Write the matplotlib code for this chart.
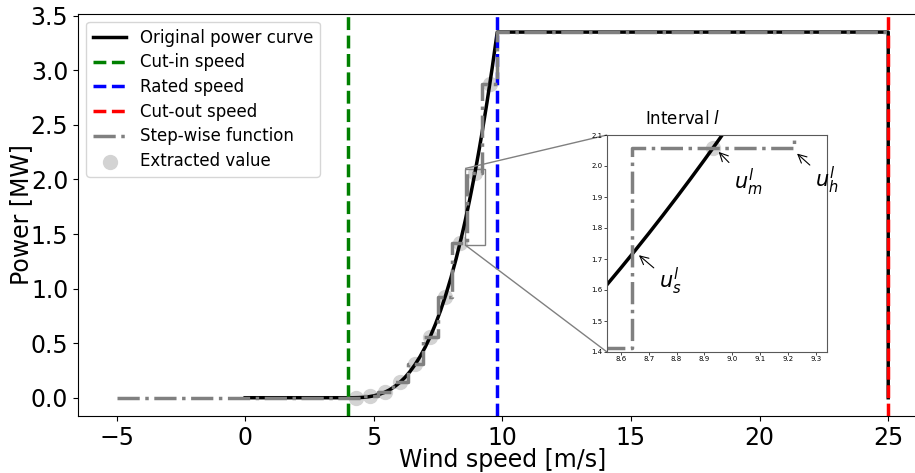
import matplotlib
matplotlib.use("Agg")
import matplotlib.pyplot as plt
from mpl_toolkits.axes_grid1.inset_locator import mark_inset

# original power curve
wind = [0.0, 4.0, 4.2, 4.4, 4.6, 4.8, 5.0, 5.2, 5.4, 5.6, 5.8, 6.0, 6.2, 6.4, 6.6,
        6.8, 7.0, 7.2, 7.4, 7.6, 7.8, 8.0, 8.2, 8.4, 8.5, 8.55, 8.6, 8.65, 8.7,
        8.75, 8.8, 8.85, 8.9, 8.95, 9.0, 9.1, 9.2, 9.4, 9.6, 9.8, 25.0, 25.0]
power = [0.0, 0.0, 0.0001, 0.0011, 0.0037, 0.0088, 0.0172, 0.0297, 0.0471, 0.0703,
         0.1001, 0.1374, 0.1828, 0.2374, 0.3018, 0.3769, 0.4636, 0.5626, 0.6749,
         0.8011, 0.9422, 1.0989, 1.2721, 1.4626, 1.5646, 1.6173, 1.6713, 1.7264,
         1.7826, 1.8401, 1.8989, 1.9588, 2.0200, 2.0825, 2.1463, 2.2776, 2.4143,
         2.7037, 3.0154, 3.35, 3.35, 0.0]

cut_in = 4.0
rated = 9.8
cut_out = 25.0

# step-wise function: interval edges and levels
step_edges = [-5.0, 4.0, 4.58, 5.16, 5.74, 6.32, 6.9, 7.48, 8.06, 8.64, 9.22, 9.8, 25.0]
step_levels = [0.0, 0.0004, 0.0113, 0.0523, 0.1436, 0.3053, 0.5574, 0.92, 1.4133,
               2.0574, 2.8723, 3.35, 3.35]

# extracted values at interval midpoints
mid_wind = [4.29, 4.87, 5.45, 6.03, 6.61, 7.19, 7.77, 8.35, 8.93, 9.51]
mid_power = [0.0004, 0.0113, 0.0523, 0.1436, 0.3053, 0.5574, 0.92, 1.4133, 2.0574, 2.8723]


def draw(ax):
    ax.plot(wind, power, color="black", lw=2.5, label="Original power curve")
    ax.axvline(cut_in, color="green", ls="--", lw=2.5, label="Cut-in speed")
    ax.axvline(rated, color="blue", ls="--", lw=2.5, label="Rated speed")
    ax.axvline(cut_out, color="red", ls="--", lw=2.5, label="Cut-out speed")
    ax.step(step_edges, step_levels, where="post", color="gray", ls="-.",
            lw=2.5, label="Step-wise function")
    ax.scatter(mid_wind, mid_power, s=100, color="lightgray", label="Extracted value")


fig = plt.figure(figsize=(9.15, 4.73), dpi=100)
ax = fig.add_axes([0.0852, 0.1205, 0.9277, 0.8503])
draw(ax)
ax.tick_params(labelsize=17)
ax.set_xlabel("Wind speed [m/s]", fontsize=17, labelpad=-1.5)
ax.set_ylabel("Power [MW]", fontsize=17, labelpad=-2)
ax.legend(loc="upper left", fontsize=12, labelspacing=0.4)

axins = fig.add_axes([607 / 915, 121 / 473, 220 / 915, 217 / 473])
draw(axins)
axins.set_xlim(8.55, 9.34)
axins.set_ylim(1.4, 2.1)
axins.tick_params(labelsize=5, length=2, width=0.5, pad=1)
for s in axins.spines.values():
    s.set_edgecolor("0.35")
axins.text(0.345, 1.05, "Interval $l$", transform=axins.transAxes, fontsize=12,
           ha="center", va="baseline")
mark_inset(ax, axins, loc1=2, loc2=3, fc="none", ec="0.5")

arrow = dict(arrowstyle="->", color="black", lw=0.8)
axins.annotate("$u_s^l$", xy=(8.657, 1.718), xytext=(8.776, 1.627), fontsize=15,
               ha="center", va="center", arrowprops=arrow)
axins.annotate("$u_m^l$", xy=(8.944, 2.052), xytext=(9.056, 1.948), fontsize=15,
               ha="center", va="center", arrowprops=arrow)
axins.annotate("$u_h^l$", xy=(9.225, 2.046), xytext=(9.338, 1.955), fontsize=15,
               ha="center", va="center", arrowprops=arrow, annotation_clip=False)

fig.savefig("out.png", dpi=100)
